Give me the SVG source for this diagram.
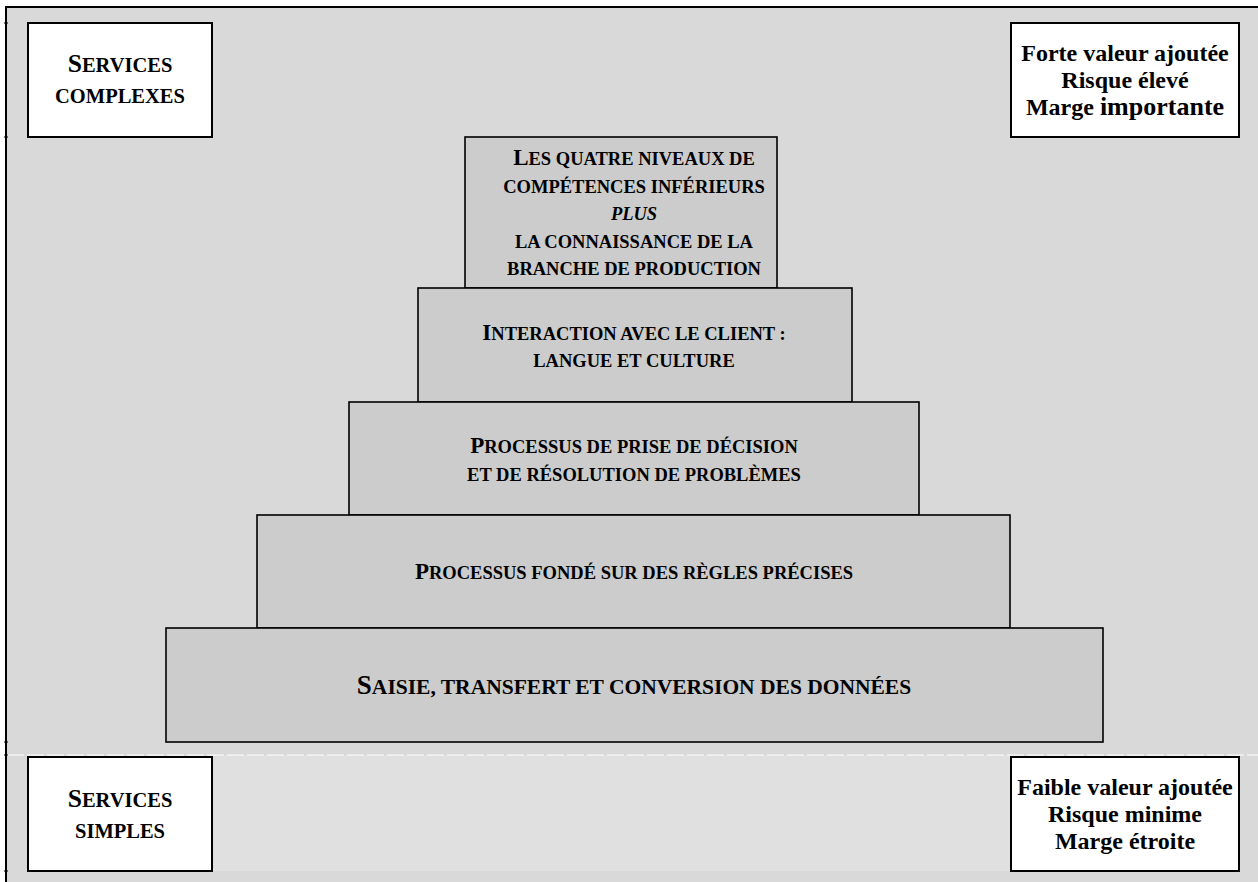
<svg xmlns="http://www.w3.org/2000/svg" width="1258" height="882" viewBox="0 0 1258 882">
<style>
.bg{fill:#d9d9d9}
.band{fill:#e0e0e0}
.box{fill:#ffffff;stroke:#000;stroke-width:2}
.lvl{fill:#cccccc;stroke:#000;stroke-width:1.6}
.t{font-family:"Liberation Serif","Times New Roman",serif;font-weight:bold;fill:#000;text-anchor:middle}
.c{font-size:20.5px}
.C{font-size:25.5px}
.s{font-size:18.5px}
.S{font-size:23px}
.r{font-size:24px}
.it{font-style:italic}
</style>
<g id="background">
<rect x="0" y="0" width="1258" height="882" fill="#ffffff"/>
<rect class="bg" x="6" y="7" width="1252" height="875"/>
<rect class="band" x="28" y="755" width="1212" height="116"/>
<line x1="7" y1="755" x2="1258" y2="755" stroke="#ffffff" stroke-width="1" stroke-dasharray="17 3"/>
<line x1="5" y1="7" x2="1258" y2="7" stroke="#000" stroke-width="2.2"/>
<line x1="6" y1="6" x2="6" y2="882" stroke="#000" stroke-width="2"/>
<g stroke="#000" stroke-width="1">
<line x1="4" y1="23" x2="8" y2="23"/>
<line x1="4" y1="137" x2="8" y2="137"/>
<line x1="4" y1="742" x2="8" y2="742"/>
<line x1="4" y1="755" x2="8" y2="755"/>
<line x1="4" y1="871" x2="8" y2="871"/>
</g>
</g>
<g id="connectors"/>
<g id="services-complexes">
<rect class="box" x="28" y="23" width="184" height="114"/>
<text class="t c" x="120" y="72"><tspan class="C">S</tspan>ERVICES</text>
<text class="t c" x="120" y="103">COMPLEXES</text>
</g>
<g id="forte-valeur">
<rect class="box" x="1011" y="23" width="228" height="114"/>
<text class="t r" x="1125" y="61">Forte valeur ajoutée</text>
<text class="t r" x="1125" y="88">Risque élevé</text>
<text class="t r" x="1125" y="115">Marge <tspan style="font-size:26px">importante</tspan></text>
</g>
<g id="services-simples">
<rect class="box" x="28" y="757" width="184" height="114"/>
<text class="t c" x="120" y="807"><tspan class="C">S</tspan>ERVICES</text>
<text class="t c" x="120" y="838">SIMPLES</text>
</g>
<g id="faible-valeur">
<rect class="box" x="1011" y="757" width="228" height="114"/>
<text class="t r" x="1125" y="795">Faible valeur ajoutée</text>
<text class="t r" x="1125" y="822">Risque minime</text>
<text class="t r" x="1125" y="849">Marge étroite</text>
</g>
<g id="level-5">
<rect class="lvl" x="465" y="137" width="312" height="151"/>
<text class="t s" x="634" y="165"><tspan class="S">L</tspan>ES QUATRE NIVEAUX DE</text>
<text class="t s" x="634" y="193">COMPÉTENCES INFÉRIEURS</text>
<text class="t s it" x="634" y="220">PLUS</text>
<text class="t s" x="634" y="248">LA CONNAISSANCE DE LA</text>
<text class="t s" x="634" y="275">BRANCHE DE PRODUCTION</text>
</g>
<g id="level-4">
<rect class="lvl" x="418" y="288" width="434" height="114"/>
<text class="t s" x="634" y="340"><tspan class="S">I</tspan>NTERACTION AVEC LE CLIENT :</text>
<text class="t s" x="634" y="367">LANGUE ET CULTURE</text>
</g>
<g id="level-3">
<rect class="lvl" x="349" y="402" width="570" height="113"/>
<text class="t s" x="634" y="453"><tspan class="S">P</tspan>ROCESSUS DE PRISE DE DÉCISION</text>
<text class="t s" x="634" y="481">ET DE RÉSOLUTION DE PROBLÈMES</text>
</g>
<g id="level-2">
<rect class="lvl" x="257" y="515" width="753" height="113"/>
<text class="t s" x="634" y="579"><tspan class="S">P</tspan>ROCESSUS FONDÉ SUR DES RÈGLES PRÉCISES</text>
</g>
<g id="level-1">
<rect class="lvl" x="166" y="628" width="937" height="114"/>
<text class="t" x="634" y="694" style="font-size:21.5px"><tspan style="font-size:27px">S</tspan>AISIE, TRANSFERT ET CONVERSION DES DONNÉES</text>
</g>
</svg>
